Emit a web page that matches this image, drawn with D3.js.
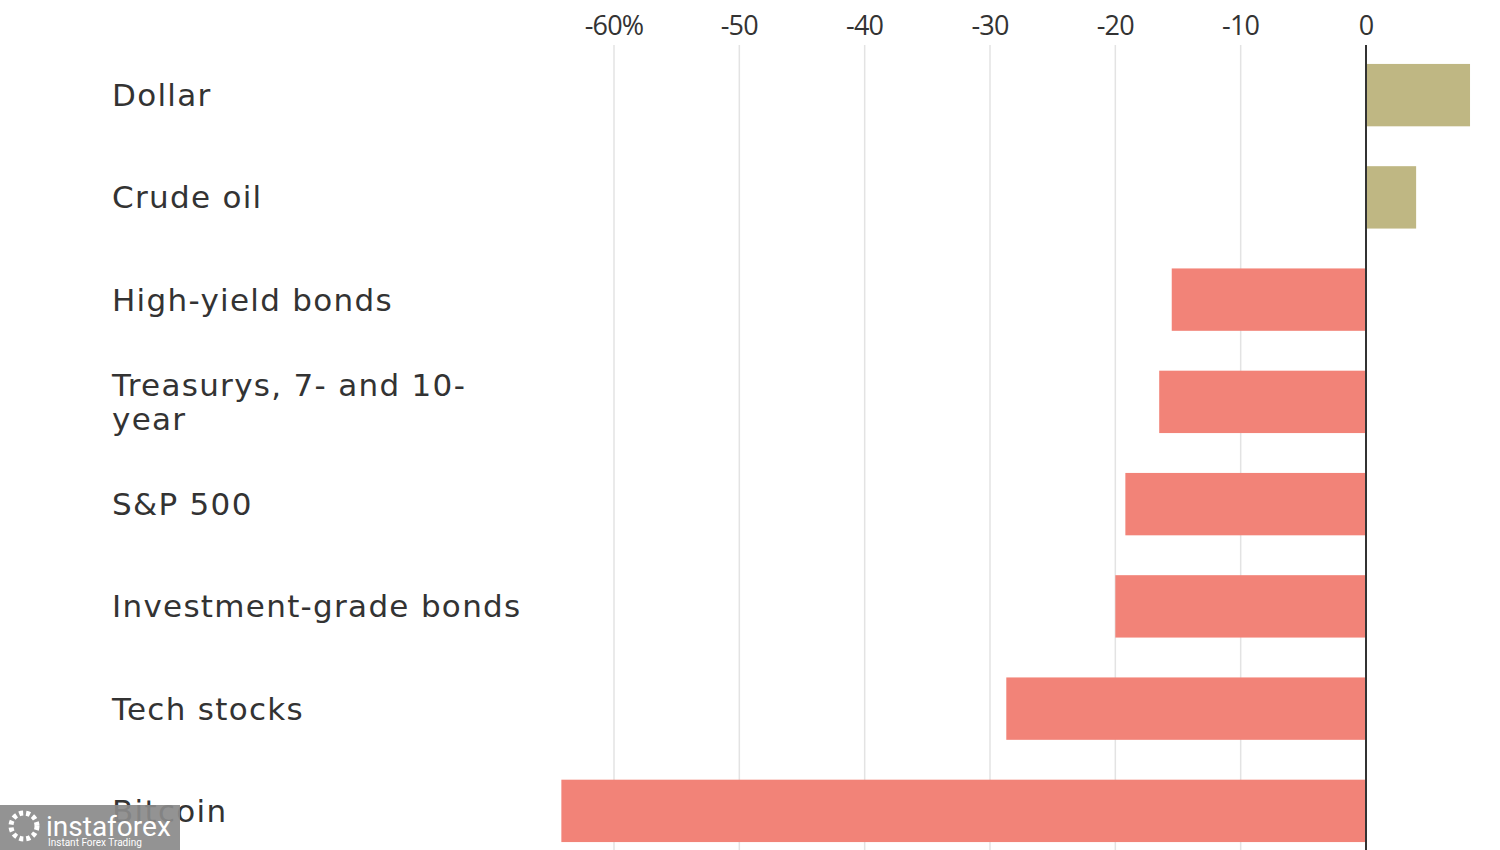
<!DOCTYPE html>
<html><head><meta charset="utf-8">
<script src="https://cdn.jsdelivr.net/npm/d3@7"></script>
<style>body{margin:0;background:#fff}svg{display:block}</style>
</head><body><svg id="c" width="1500" height="850"></svg>
<script>
const categories = ["Dollar","Crude oil","High-yield bonds","Treasurys, 7- and 10-year","S&P 500","Investment-grade bonds","Tech stocks","Bitcoin"];
const labelLines = [["Dollar"],["Crude oil"],["High-yield bonds"],["Treasurys, 7- and 10-","year"],["S&P 500"],["Investment-grade bonds"],["Tech stocks"],["Bitcoin"]];
const values = [8.3, 4.0, -15.5, -16.5, -19.2, -20.0, -28.7, -64.2];
const tickValues = [-60,-50,-40,-30,-20,-10,0];
const tickLabels = ["-60%","-50","-40","-30","-20","-10","0"];

const svg = d3.select("#c");
const x = d3.scaleLinear().domain([-60, 0]).range([614, 1366]);
const y = d3.scaleBand().domain(categories).range([44, 862]).paddingInner(0.39).paddingOuter(0.195);

// grid
svg.append("g").selectAll("line").data(tickValues.filter(d=>d!==0)).join("line")
  .attr("x1", d=>x(d)).attr("x2", d=>x(d)).attr("y1", 45).attr("y2", 850)
  .attr("stroke", "#e3e3e3").attr("stroke-width", 1.5);

// tick labels
svg.append("g").selectAll("text").data(tickValues).join("text")
  .attr("x", d=>x(d)).attr("y", 35).attr("text-anchor","middle")
  .attr("font-family","Open Sans, sans-serif").attr("font-size",27).attr("fill","#333")
  .attr("letter-spacing", -0.8)
  .text((d,i)=>tickLabels[i]);

// bars
svg.append("g").selectAll("rect").data(values).join("rect")
  .attr("x", d=>x(Math.min(0,d))).attr("width", d=>Math.abs(x(d)-x(0)))
  .attr("y", (d,i)=>y(categories[i])).attr("height", y.bandwidth())
  .attr("fill", d=> d>=0 ? "#bfb783" : "#f28378");

// zero line
svg.append("line").attr("x1", x(0)).attr("x2", x(0)).attr("y1", 45).attr("y2", 850)
  .attr("stroke","#333").attr("stroke-width",2);

// labels
const lg = svg.append("g");
labelLines.forEach((lines,i)=>{
  const cy = y(categories[i]) + y.bandwidth()/2;
  const t = lg.append("text").attr("x",112).attr("font-family","DejaVu Sans, sans-serif")
    .attr("font-size",31).attr("fill","#333").attr("letter-spacing",1.3);
  const n = lines.length, lh = 34;
  lines.forEach((l,j)=>{
    t.append("tspan").attr("x",112).attr("y", cy + 11 + (j-(n-1)/2)*lh).text(l);
  });
});

// watermark
const wm = svg.append("g");
wm.append("rect").attr("x",0).attr("y",805).attr("width",180).attr("height",45).attr("fill","#8a8a8a").attr("opacity",0.92);
wm.append("circle").attr("cx",24).attr("cy",826).attr("r",13).attr("fill","none").attr("stroke","#fff").attr("stroke-width",5).attr("stroke-dasharray","4 3");
wm.append("text").attr("x",46).attr("y",836).attr("fill","#fff").attr("font-family","Roboto, sans-serif").attr("font-size",28).text("instaforex");
wm.append("text").attr("x",48).attr("y",846).attr("fill","#fff").attr("font-family","Roboto, sans-serif").attr("font-size",10).text("Instant Forex Trading");
</script></body></html>
